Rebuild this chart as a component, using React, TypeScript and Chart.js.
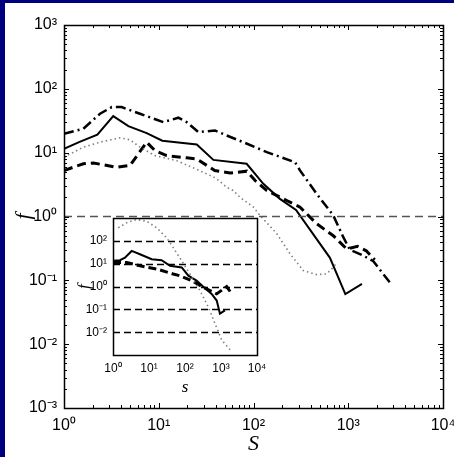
import React, { useEffect, useRef } from "react";
import { Chart, registerables } from "chart.js";
Chart.register(...registerables);

// ---- tick values / labels ----
const xTickValues = [1, 10, 100, 1000, 10000];
const xTickLabels = ["10⁰", "10¹", "10²", "10³", "10⁴"];
const yTickValues = [0.001, 0.01, 0.1, 1, 10, 100, 1000];
const yTickLabels = ["10⁻³", "10⁻²", "10⁻¹", "10⁰", "10¹", "10²", "10³"];
const insetYTickValues = [0.01, 0.1, 1, 10, 100];
const insetYTickLabels = ["10⁻²", "10⁻¹", "10⁰", "10¹", "10²"];

// ---- main series ----
const solidS = [1, 1.44, 2.25, 3.31, 4.78, 7.46, 10.9, 25.2, 37.7, 84.7, 127, 190, 281, 641, 932, 1397];
const solidF = [11.5, 14.6, 19.1, 37.4, 26, 20.2, 15.4, 13.4, 7.7, 6.7, 3.25, 1.89, 1.27, 0.225, 0.061, 0.088];

const dashedS = [1, 1.6, 2.04, 3.6, 4.97, 7.46, 9.1, 12.1, 19.7, 25, 39, 56.5, 85, 104, 138, 224, 310, 464, 695, 962, 1250, 1550, 1900];
const dashedF = [5.26, 6.7, 6.9, 5.9, 6.3, 14.6, 10.8, 9.0, 8.3, 8.0, 5.26, 4.8, 5.13, 3.66, 2.56, 1.78, 1.4, 0.77, 0.5, 0.31, 0.34, 0.29, 0.21];

const dashDotS = [1, 1.6, 2.4, 3.19, 4.06, 6.34, 11.2, 16.1, 19.7, 26.2, 39.2, 52, 78, 138, 274, 310, 464, 695, 887, 1042, 1390, 1840, 2870];
const dashDotF = [19.8, 23.7, 40.7, 51.7, 51.7, 40.7, 30.1, 35.3, 30.1, 21, 22.3, 18.6, 14.6, 10.2, 7.1, 5.26, 2.27, 1.04, 0.474, 0.3, 0.25, 0.2, 0.085];

const dottedS = [1, 1.6, 2.4, 3.9, 4.97, 6.34, 9.1, 15.5, 25, 40, 52, 61, 72, 100, 117, 176, 243, 336, 464, 590, 695, 760];
const dottedF = [8.5, 12.2, 14.6, 17.1, 15.9, 12.2, 9.0, 7.5, 5.5, 4.0, 2.88, 2.56, 2.0, 1.4, 1.04, 0.54, 0.26, 0.142, 0.123, 0.126, 0.16, 0.19];

const refLineS = [1, 10000];
const refLineF = [1, 1];

// ---- inset series ----
const insetSolidS = [1, 1.56, 2.15, 3.3, 5.6, 11.9, 22.4, 38.3, 81, 124, 209, 318, 550, 760, 935, 1290];
const insetSolidF = [13.5, 14.4, 18.6, 36.7, 26.3, 15.9, 14.4, 8.2, 6.9, 3.0, 1.82, 1.0, 0.48, 0.245, 0.065, 0.09];

const insetDashedS = [1, 2.4, 5.6, 16.4, 47, 72, 153, 318, 760, 1440, 2050];
const insetDashedF = [11.4, 11.4, 8.2, 5.9, 3.56, 3.0, 1.82, 0.93, 0.48, 1.0, 0.45];

const insetDottedS = [1.4, 2.4, 4.5, 8.6, 16.3, 31, 47, 81, 138, 260, 445, 680, 1050, 1780];
const insetDottedF = [380, 630, 880, 740, 380, 138, 51, 13.5, 3.5, 0.67, 0.126, 0.024, 0.0045, 0.0017];

const pts = (xs: number[], ys: number[]) => xs.map((x, i) => ({ x, y: ys[i] }));

const SANS = "'Liberation Sans', Arial, sans-serif";
const SERIF = "'Liberation Serif', 'Times New Roman', serif";

function lineDs(data: any[], color: string, width: number, dash: number[]) {
  return {
    data,
    showLine: true,
    borderColor: color,
    backgroundColor: color,
    borderWidth: width,
    borderDash: dash,
    pointRadius: 0,
    pointHoverRadius: 0,
    fill: false,
    tension: 0,
  };
}

function makeFramePlugin(id: string, o: { minor: boolean; ticks: boolean; grid?: number[]; bg?: string; frameWidth: number }) {
  return {
    id,
    beforeDatasetsDraw(chart: any) {
      const { ctx, chartArea: a, scales } = chart;
      ctx.save();
      if (o.bg) {
        ctx.fillStyle = o.bg;
        ctx.fillRect(a.left, a.top, a.right - a.left, a.bottom - a.top);
      }
      if (o.grid) {
        ctx.strokeStyle = "#000";
        ctx.lineWidth = 1.3;
        ctx.setLineDash([7, 4]);
        for (const v of o.grid) {
          const y = Math.round(scales.y.getPixelForValue(v)) + 0.5;
          ctx.beginPath();
          ctx.moveTo(a.left, y);
          ctx.lineTo(a.right, y);
          ctx.stroke();
        }
      }
      ctx.restore();
    },
    afterDatasetsDraw(chart: any) {
      const { ctx, chartArea: a, scales } = chart;
      ctx.save();
      ctx.strokeStyle = "#000";
      ctx.setLineDash([]);
      if (o.ticks) {
        ctx.lineWidth = 1;
        const drawX = (v: number, len: number) => {
          const x = Math.round(scales.x.getPixelForValue(v)) + 0.5;
          ctx.beginPath();
          ctx.moveTo(x, a.bottom);
          ctx.lineTo(x, a.bottom - len);
          ctx.moveTo(x, a.top);
          ctx.lineTo(x, a.top + len);
          ctx.stroke();
        };
        const drawY = (v: number, len: number) => {
          const y = Math.round(scales.y.getPixelForValue(v)) + 0.5;
          ctx.beginPath();
          ctx.moveTo(a.left, y);
          ctx.lineTo(a.left + len, y);
          ctx.moveTo(a.right, y);
          ctx.lineTo(a.right - len, y);
          ctx.stroke();
        };
        const sx = scales.x, sy = scales.y;
        for (let e = Math.floor(Math.log10(sx.min)); e <= Math.ceil(Math.log10(sx.max)); e++) {
          for (let k = 1; k <= 9; k++) {
            const v = k * Math.pow(10, e);
            if (v < sx.min * 0.999 || v > sx.max * 1.001) continue;
            if (k === 1) drawX(v, 5);
            else if (o.minor) drawX(v, 3);
          }
        }
        for (let e = Math.floor(Math.log10(sy.min)); e <= Math.ceil(Math.log10(sy.max)); e++) {
          for (let k = 1; k <= 9; k++) {
            const v = k * Math.pow(10, e);
            if (v < sy.min * 0.999 || v > sy.max * 1.001) continue;
            if (k === 1) drawY(v, 5);
            else if (o.minor) drawY(v, 3);
          }
        }
      }
      ctx.lineWidth = o.frameWidth;
      ctx.strokeRect(Math.round(a.left) + 0.5, Math.round(a.top) + 0.5, Math.round(a.right - a.left), Math.round(a.bottom - a.top));
      ctx.restore();
    },
  };
}

const labelFrom = (vals: number[], labels: string[]) => (v: any) => {
  const i = vals.findIndex((t) => Math.abs(t - Number(v)) / t < 1e-6);
  return i >= 0 ? labels[i] : "";
};

function mainConfig(): any {
  return {
    type: "scatter",
    data: {
      datasets: [
        lineDs(pts(refLineS, refLineF), "#555555", 1.3, [8, 5]),
        lineDs(pts(dottedS, dottedF), "#808080", 1.6, [1.5, 3]),
        lineDs(pts(dashDotS, dashDotF), "#000000", 2.5, [10, 4, 2, 4]),
        lineDs(pts(dashedS, dashedF), "#000000", 3, [9, 5]),
        lineDs(pts(solidS, solidF), "#000000", 2, []),
      ],
    },
    options: {
      responsive: false,
      animation: false,
      events: [],
      layout: { padding: { top: 25, right: 11, left: 0, bottom: 0 } },
      plugins: { legend: { display: false }, tooltip: { enabled: false } },
      scales: {
        x: {
          type: "logarithmic",
          min: 1,
          max: 10000,
          afterBuildTicks: (s: any) => {
            s.ticks = xTickValues.map((value) => ({ value }));
          },
          afterFit: (s: any) => {
            s.height = 49;
            s.paddingLeft = 0;
            s.paddingRight = 0;
          },
          grid: { display: false, drawTicks: false },
          border: { display: false },
          ticks: {
            autoSkip: false,
            maxRotation: 0,
            padding: 8,
            color: "#000",
            font: { family: SANS, size: 16 },
            callback: labelFrom(xTickValues, xTickLabels),
          },
          title: {
            display: true,
            text: "S",
            color: "#000",
            font: { family: SERIF, style: "italic", size: 22 },
            padding: { top: 0, bottom: 0 },
          },
        },
        y: {
          type: "logarithmic",
          min: 0.001,
          max: 1000,
          afterBuildTicks: (s: any) => {
            s.ticks = yTickValues.map((value) => ({ value }));
          },
          afterFit: (s: any) => {
            s.width = 64;
          },
          grid: { display: false, drawTicks: false },
          border: { display: false },
          ticks: {
            autoSkip: false,
            padding: 7,
            color: "#000",
            font: { family: SANS, size: 16 },
            callback: labelFrom(yTickValues, yTickLabels),
          },
          title: {
            display: true,
            text: "f",
            color: "#000",
            font: { family: SERIF, style: "italic", size: 22 },
            padding: { top: 11, bottom: 0 },
          },
        },
      },
    },
    plugins: [makeFramePlugin("mainFrame", { minor: true, ticks: true, frameWidth: 1.5 })],
  };
}

function insetConfig(): any {
  return {
    type: "scatter",
    data: {
      datasets: [
        lineDs(pts(insetDottedS, insetDottedF), "#808080", 1.6, [1.5, 3]),
        lineDs(pts(insetDashedS, insetDashedF), "#000000", 3, [8, 4]),
        lineDs(pts(insetSolidS, insetSolidF), "#000000", 2, []),
      ],
    },
    options: {
      responsive: false,
      animation: false,
      events: [],
      layout: { padding: { top: 12, right: 13, left: 0, bottom: 0 } },
      plugins: { legend: { display: false }, tooltip: { enabled: false } },
      scales: {
        x: {
          type: "logarithmic",
          min: 1,
          max: 10000,
          afterBuildTicks: (s: any) => {
            s.ticks = xTickValues.map((value) => ({ value }));
          },
          afterFit: (s: any) => {
            s.height = 45;
            s.paddingLeft = 0;
            s.paddingRight = 0;
          },
          grid: { display: false, drawTicks: false },
          border: { display: false },
          ticks: {
            autoSkip: false,
            maxRotation: 0,
            padding: 6,
            color: "#000",
            font: { family: SANS, size: 12 },
            callback: labelFrom(xTickValues, xTickLabels),
          },
          title: {
            display: true,
            text: "s",
            color: "#000",
            font: { family: SERIF, style: "italic", size: 17 },
            padding: { top: 0, bottom: 2 },
          },
        },
        y: {
          type: "logarithmic",
          min: 0.001,
          max: 1000,
          afterBuildTicks: (s: any) => {
            s.ticks = insetYTickValues.map((value) => ({ value }));
          },
          afterFit: (s: any) => {
            s.width = 43;
          },
          grid: { display: false, drawTicks: false },
          border: { display: false },
          ticks: {
            autoSkip: false,
            padding: 6,
            color: "#000",
            font: { family: SANS, size: 12 },
            callback: labelFrom(insetYTickValues, insetYTickLabels),
          },
          title: {
            display: true,
            text: "f",
            color: "#000",
            font: { family: SERIF, style: "italic", size: 17 },
            padding: { top: 4, bottom: 0 },
          },
        },
      },
    },
    plugins: [makeFramePlugin("insetFrame", { minor: false, ticks: false, grid: insetYTickValues, bg: "#ffffff", frameWidth: 1.5 })],
  };
}

export default function App() {
  const mainRef = useRef<HTMLCanvasElement>(null);
  const insetRef = useRef<HTMLCanvasElement>(null);
  useEffect(() => {
    const main = new Chart(mainRef.current as HTMLCanvasElement, mainConfig());
    const inset = new Chart(insetRef.current as HTMLCanvasElement, insetConfig());
    return () => {
      main.destroy();
      inset.destroy();
    };
  }, []);
  return (
    <div style={{ position: "absolute", left: 0, top: 0, width: 454, height: 457, background: "#ffffff", overflow: "hidden" }}>
      <canvas ref={mainRef} width={454} height={457} style={{ position: "absolute", left: 0, top: 0 }} />
      <canvas ref={insetRef} width={200} height={195} style={{ position: "absolute", left: 70, top: 205 }} />
      <div style={{ position: "absolute", left: 0, top: 0, width: 5, height: 457, background: "#00007f" }} />
      <div style={{ position: "absolute", left: 0, top: 0, width: 454, height: 3, background: "#00007f" }} />
    </div>
  );
}
